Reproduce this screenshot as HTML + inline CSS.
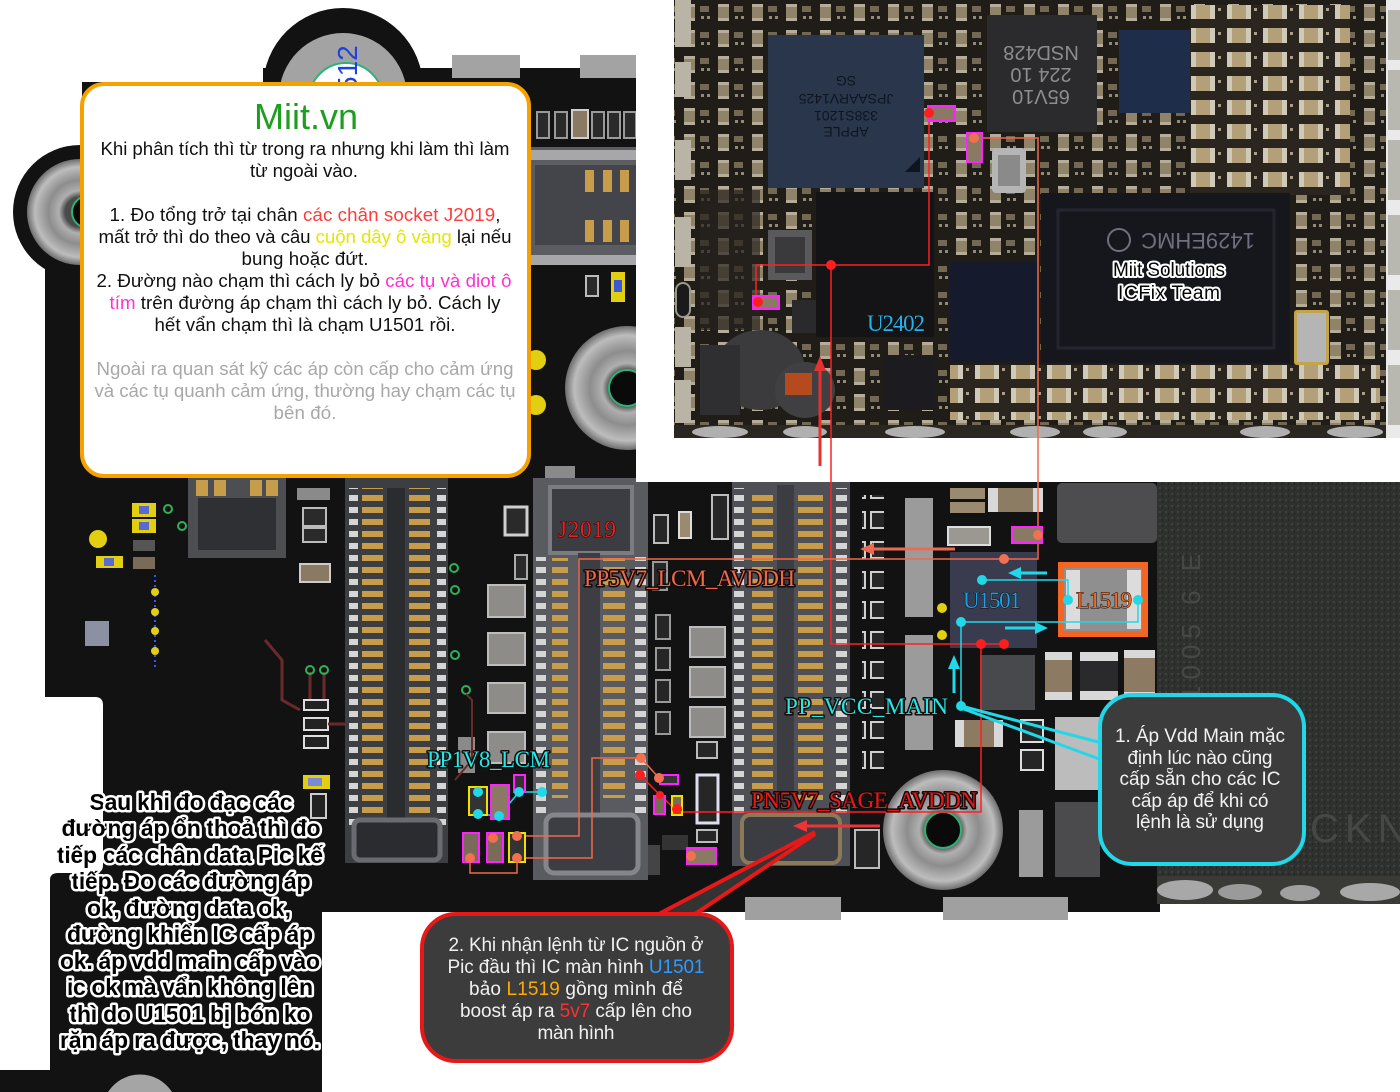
<!DOCTYPE html>
<html><head><meta charset="utf-8">
<style>
html,body{margin:0;padding:0;background:#fff;width:1400px;height:1092px;overflow:hidden;}
svg{display:block;overflow:hidden;}
</style></head><body>
<svg width="1400" height="1092" viewBox="0 0 1400 1092" xmlns="http://www.w3.org/2000/svg">
<defs>
<pattern id="gp" width="40" height="12" patternUnits="userSpaceOnUse"><rect x="0" y="3" width="40" height="6" fill="#c79d4c"/></pattern>
<pattern id="wp" width="40" height="12" patternUnits="userSpaceOnUse"><rect x="0" y="3" width="40" height="6" fill="#d5d5d5"/></pattern>
<pattern id="ph" width="34" height="26" patternUnits="userSpaceOnUse">
 <rect width="34" height="26" fill="#201c18"/>
 <rect x="4" y="4" width="11" height="17" fill="#8f836a"/>
 <rect x="4" y="4" width="11" height="3" fill="#b5ad9a"/>
 <rect x="4" y="18" width="11" height="3" fill="#b5ad9a"/>
 <rect x="20" y="6" width="9" height="6" fill="#726854"/>
 <rect x="21" y="16" width="3" height="3" fill="#928a74"/>
 <rect x="27" y="16" width="3" height="3" fill="#928a74"/>
</pattern>
<pattern id="ph2" width="36" height="24" patternUnits="userSpaceOnUse">
 <rect width="36" height="24" fill="#2a251f"/>
 <rect x="3" y="4" width="24" height="15" fill="#b3a078"/>
 <rect x="3" y="4" width="5" height="15" fill="#cfc9b8"/>
 <rect x="22" y="4" width="5" height="15" fill="#cfc9b8"/>
 <rect x="30" y="8" width="3" height="3" fill="#aaa08a"/>
</pattern>
<pattern id="sh" width="6" height="6" patternUnits="userSpaceOnUse"><rect width="6" height="6" fill="#2e312e"/><rect x="1" y="1" width="2" height="2" fill="#3d403c"/><rect x="4" y="3" width="1" height="2" fill="#222422"/></pattern>
<pattern id="mc" width="30" height="30" patternUnits="userSpaceOnUse"><rect x="1" y="2" width="24" height="16" fill="#262626" stroke="#cfcfcf" stroke-width="2"/></pattern>
<radialGradient id="met">
 <stop offset="0.28" stop-color="#4a4a4a"/>
 <stop offset="0.4" stop-color="#b0b0b0"/>
 <stop offset="0.6" stop-color="#8d8d8d"/>
 <stop offset="0.85" stop-color="#bdbdbd"/>
 <stop offset="1" stop-color="#6d6d6d"/>
</radialGradient>
</defs>

<rect width="1400" height="1092" fill="#fff"/>

<!-- main PCB -->
<path d="M45 262 L82 262 L82 82 L263 82 L263 68 L1160 68 L1160 912 L322 912 L322 1092 L0 1092 L0 1070 L50 1070 L50 880 Q50 873 58 873 L95 873 Q103 873 103 865 L103 705 Q103 697 95 697 L45 697 Z" fill="#121212"/>
<circle cx="343" cy="88" r="80" fill="#121212"/>
<circle cx="343" cy="97" r="64" fill="#a3a3a3"/>
<circle cx="346" cy="100" r="37" fill="#fff" stroke="#2bb37a" stroke-width="2"/>
<text transform="translate(357,92) rotate(-90)" font-family="Liberation Sans, Arial, sans-serif" font-size="28" fill="#2040e0">512</text>
<circle cx="80" cy="212" r="67" fill="#121212"/>
<circle cx="80" cy="212" r="53" fill="url(#met)"/>
<circle cx="88" cy="212" r="16" fill="#0a0a0a" stroke="#2bb37a" stroke-width="2"/>
<path d="M108 1092 A38 38 0 0 1 172 1092 Z" fill="#a5a5a5"/>

<!-- top tabs -->
<rect x="452" y="55" width="68" height="23" fill="#a3a3a3"/>
<rect x="580" y="55" width="56" height="23" fill="#a3a3a3"/>

<!-- top-middle area right of box -->
<g>
<rect x="537" y="112" width="12" height="26" fill="#2a2a2a" stroke="#9a9a9a" stroke-width="2"/>
<rect x="555" y="112" width="12" height="26" fill="#2a2a2a" stroke="#9a9a9a" stroke-width="2"/>
<rect x="572" y="110" width="16" height="28" fill="#8a7a64" stroke="#d0d0d0" stroke-width="2"/>
<rect x="592" y="112" width="12" height="26" fill="#2a2a2a" stroke="#9a9a9a" stroke-width="2"/>
<rect x="608" y="112" width="12" height="26" fill="#2a2a2a" stroke="#9a9a9a" stroke-width="2"/>
<rect x="624" y="112" width="12" height="26" fill="#2a2a2a" stroke="#9a9a9a" stroke-width="2"/>
<rect x="531" y="147" width="105" height="118" fill="#5b5d62"/>
<rect x="531" y="150" width="105" height="10" fill="#c8c8c8" opacity="0.7"/>
<rect x="531" y="255" width="105" height="10" fill="#c8c8c8" opacity="0.7"/>
<rect x="535" y="165" width="101" height="80" fill="#43454a"/>
<rect x="585" y="170" width="9" height="22" fill="#c79d4c"/><rect x="603" y="170" width="9" height="22" fill="#c79d4c"/><rect x="620" y="170" width="9" height="22" fill="#c79d4c"/>
<rect x="585" y="220" width="9" height="22" fill="#c79d4c"/><rect x="603" y="220" width="9" height="22" fill="#c79d4c"/><rect x="620" y="220" width="9" height="22" fill="#c79d4c"/>
<rect x="586" y="276" width="12" height="20" fill="#2a2a2a" stroke="#bbb" stroke-width="2"/>
<rect x="611" y="272" width="14" height="30" fill="#e3cf12"/><rect x="614" y="280" width="8" height="12" fill="#3b58d8"/>
<circle cx="536" cy="360" r="10" fill="#e3cf12"/>
<circle cx="536" cy="405" r="10" fill="#e3cf12"/>
<circle cx="627" cy="388" r="62" fill="url(#met)"/>
<circle cx="627" cy="388" r="18" fill="#0a0a0a" stroke="#2bb37a" stroke-width="2"/>
<rect x="545" y="466" width="30" height="14" fill="#8a8a8a"/>
</g>

<!-- left region components -->
<g>
<rect x="132" y="503" width="24" height="14" fill="#e3cf12"/><rect x="139" y="506" width="10" height="8" fill="#5a6ad0"/>
<rect x="132" y="519" width="24" height="14" fill="#e3cf12"/><rect x="139" y="522" width="10" height="8" fill="#5a6ad0"/>
<circle cx="168" cy="509" r="4" fill="none" stroke="#2bb35a" stroke-width="2"/>
<circle cx="182" cy="526" r="4" fill="none" stroke="#2bb35a" stroke-width="2"/>
<circle cx="98" cy="539" r="9" fill="#e3cf12"/>
<rect x="96" y="556" width="27" height="12" fill="#e3cf12"/><rect x="104" y="558" width="10" height="8" fill="#5a6ad0"/>
<rect x="133" y="540" width="22" height="11" fill="#555"/>
<rect x="133" y="557" width="22" height="12" fill="#7a6a58"/>
<line x1="155" y1="575" x2="155" y2="670" stroke="#3355ff" stroke-width="2" stroke-dasharray="2 3"/>
<circle cx="155" cy="592" r="4" fill="#e3cf12"/><circle cx="155" cy="612" r="4" fill="#e3cf12"/><circle cx="155" cy="631" r="4" fill="#e3cf12"/><circle cx="155" cy="651" r="4" fill="#e3cf12"/>
<rect x="85" y="621" width="24" height="25" fill="#8b90a2"/>
<rect x="188" y="478" width="98" height="80" fill="#4d4e52"/>
<rect x="198" y="498" width="78" height="52" fill="#2f3034"/>
<rect x="196" y="480" width="12" height="16" fill="#c79d4c"/><rect x="214" y="480" width="12" height="16" fill="#c79d4c"/><rect x="250" y="480" width="12" height="16" fill="#c79d4c"/><rect x="266" y="480" width="12" height="16" fill="#c79d4c"/>
<rect x="297" y="488" width="33" height="12" fill="#8a8a8a"/>
<rect x="303" y="508" width="23" height="18" fill="#2a2a2a" stroke="#bbb" stroke-width="2"/>
<rect x="303" y="528" width="23" height="14" fill="#2a2a2a" stroke="#bbb" stroke-width="2"/>
<rect x="300" y="564" width="30" height="18" fill="#8a7a64" stroke="#ccc" stroke-width="2"/>
<polyline points="265,640 282,660 282,700 300,710" fill="none" stroke="#6b2a2a" stroke-width="3"/>
<line x1="310" y1="672" x2="310" y2="700" stroke="#6b2a2a" stroke-width="3"/>
<line x1="324" y1="672" x2="324" y2="700" stroke="#6b2a2a" stroke-width="3"/>
<circle cx="310" cy="670" r="4" fill="none" stroke="#2bb35a" stroke-width="2"/>
<circle cx="324" cy="670" r="4" fill="none" stroke="#2bb35a" stroke-width="2"/>
<rect x="304" y="700" width="24" height="10" fill="#222" stroke="#ddd" stroke-width="2"/>
<rect x="304" y="718" width="24" height="12" fill="#222" stroke="#ddd" stroke-width="2"/>
<rect x="304" y="736" width="24" height="12" fill="#222" stroke="#ddd" stroke-width="2"/>
<line x1="328" y1="724" x2="345" y2="724" stroke="#6b2a2a" stroke-width="3"/>
<rect x="303" y="775" width="27" height="14" fill="#e3cf12"/><rect x="308" y="778" width="14" height="8" fill="#7a8ad8"/>
<rect x="311" y="794" width="15" height="24" fill="#222" stroke="#ccc" stroke-width="2"/>
</g>

<!-- Connector A -->
<g>
<rect x="345" y="478" width="103" height="385" fill="#3d3e42"/>
<rect x="349" y="488" width="9" height="340" fill="url(#wp)"/>
<rect x="437" y="488" width="9" height="340" fill="url(#wp)"/>
<rect x="362" y="488" width="21" height="330" fill="url(#gp)"/>
<rect x="409" y="488" width="21" height="330" fill="url(#gp)"/>
<rect x="387" y="488" width="18" height="345" fill="#2b2c30"/>
<rect x="354" y="820" width="86" height="40" rx="6" fill="#2b2c30" stroke="#6a6b70" stroke-width="5"/>
</g>

<!-- between A and J2019 -->
<g>
<rect x="505" y="507" width="22" height="28" fill="#2a2a2a" stroke="#cfcfcf" stroke-width="3"/>
<rect x="515" y="555" width="12" height="24" fill="#2a2a2a" stroke="#aaa" stroke-width="2"/>
<rect x="488" y="585" width="37" height="32" fill="#8e8c88" stroke="#bcbcbc" stroke-width="2"/>
<rect x="488" y="633" width="37" height="32" fill="#8e8c88" stroke="#bcbcbc" stroke-width="2"/>
<rect x="488" y="683" width="37" height="30" fill="#8e8c88" stroke="#bcbcbc" stroke-width="2"/>
<rect x="488" y="732" width="37" height="31" fill="#8e8c88" stroke="#bcbcbc" stroke-width="2"/>
<rect x="458" y="737" width="17" height="36" fill="#8a8a8a"/>
<circle cx="454" cy="568" r="4" fill="none" stroke="#2bb35a" stroke-width="2"/>
<circle cx="455" cy="590" r="4" fill="none" stroke="#2bb35a" stroke-width="2"/>
<circle cx="455" cy="655" r="4" fill="none" stroke="#2bb35a" stroke-width="2"/>
<circle cx="466" cy="690" r="4" fill="none" stroke="#2bb35a" stroke-width="2"/>
<polyline points="466,694 472,700 472,760 455,780" fill="none" stroke="#6b2a2a" stroke-width="2"/>
</g>

<!-- J2019 connector -->
<g>
<rect x="533" y="478" width="115" height="402" fill="#595b61"/>
<rect x="550" y="487" width="82" height="66" fill="#3b3d43" stroke="#7a7c82" stroke-width="4"/>
<rect x="536" y="557" width="10" height="256" fill="url(#wp)"/>
<rect x="635" y="557" width="11" height="256" fill="url(#wp)"/>
<rect x="552" y="558" width="16" height="240" fill="url(#gp)"/>
<rect x="603" y="558" width="22" height="240" fill="url(#gp)"/>
<rect x="578" y="553" width="22" height="315" fill="#3c3e44"/>
<rect x="546" y="815" width="92" height="58" rx="8" fill="#3c3e44" stroke="#84868c" stroke-width="5"/>
</g>

<!-- between J2019 and C -->
<g>
<rect x="654" y="515" width="14" height="28" fill="#262626" stroke="#bbb" stroke-width="2"/>
<rect x="679" y="512" width="12" height="26" fill="#9a8a70" stroke="#ddd" stroke-width="2"/>
<rect x="712" y="495" width="16" height="44" fill="#262626" stroke="#bbb" stroke-width="2"/>
<rect x="653" y="562" width="14" height="28" fill="#262626" stroke="#999" stroke-width="2"/>
<rect x="656" y="615" width="14" height="24" fill="#262626" stroke="#999" stroke-width="2"/>
<rect x="656" y="648" width="14" height="22" fill="#262626" stroke="#999" stroke-width="2"/>
<rect x="656" y="680" width="14" height="22" fill="#262626" stroke="#999" stroke-width="2"/>
<rect x="656" y="712" width="14" height="22" fill="#262626" stroke="#999" stroke-width="2"/>
<rect x="690" y="627" width="35" height="30" fill="#8e8c88" stroke="#bcbcbc" stroke-width="2"/>
<rect x="690" y="667" width="35" height="30" fill="#8e8c88" stroke="#bcbcbc" stroke-width="2"/>
<rect x="690" y="707" width="35" height="30" fill="#8e8c88" stroke="#bcbcbc" stroke-width="2"/>
<rect x="697" y="742" width="20" height="16" fill="#262626" stroke="#bbb" stroke-width="2"/>
<rect x="697" y="775" width="21" height="48" fill="#262626" stroke="#dde" stroke-width="3"/>
<rect x="697" y="830" width="20" height="12" fill="#262626" stroke="#bbb" stroke-width="2"/>
<rect x="648" y="845" width="12" height="30" fill="#444"/>
<rect x="662" y="835" width="26" height="15" fill="#333"/>
</g>

<!-- Connector C -->
<g>
<rect x="732" y="478" width="118" height="388" fill="#4e5056"/>
<rect x="734" y="488" width="10" height="325" fill="url(#wp)"/>
<rect x="836" y="488" width="11" height="325" fill="url(#wp)"/>
<rect x="752" y="490" width="21" height="310" fill="url(#gp)"/>
<rect x="798" y="490" width="25" height="310" fill="url(#gp)"/>
<rect x="777" y="485" width="17" height="330" fill="#3b3d43"/>
<rect x="742" y="815" width="98" height="48" rx="8" fill="#3b3d43" stroke="#8a7a5a" stroke-width="4"/>
</g>

<!-- right of C -->
<g>
<rect x="862" y="495" width="22" height="280" fill="url(#mc)"/>
<rect x="855" y="830" width="24" height="38" fill="#262626" stroke="#bbb" stroke-width="2"/>
<rect x="905" y="498" width="28" height="119" fill="#9b9b9b"/>
<rect x="905" y="635" width="28" height="115" fill="#9b9b9b"/>
<rect x="1019" y="810" width="24" height="67" fill="#9b9b9b"/>
<rect x="950" y="488" width="35" height="11" fill="#9a8a70"/>
<rect x="950" y="502" width="35" height="11" fill="#9a8a70"/>
<rect x="948" y="527" width="42" height="18" fill="#9a9890" stroke="#ddd" stroke-width="2"/>
<rect x="988" y="488" width="55" height="24" fill="#8d7c64"/>
<rect x="988" y="488" width="10" height="24" fill="#d8d8d8"/><rect x="1033" y="488" width="10" height="24" fill="#d8d8d8"/>
<rect x="1057" y="483" width="100" height="60" rx="5" fill="#4d4d4f"/>
<rect x="950" y="552" width="87" height="96" fill="#393b4e"/>
<rect x="1058" y="562" width="90" height="75" fill="#f26522"/>
<rect x="1064" y="568" width="78" height="63" fill="#8f8f8f"/>
<rect x="1066" y="570" width="14" height="59" fill="#dcdcdc"/>
<rect x="1127" y="570" width="14" height="59" fill="#dcdcdc"/>
<rect x="980" y="655" width="55" height="55" fill="#48494d"/>
<rect x="1045" y="652" width="27" height="48" fill="#8c7a62"/><rect x="1045" y="652" width="27" height="8" fill="#d8d8d8"/><rect x="1045" y="692" width="27" height="8" fill="#d8d8d8"/>
<rect x="1080" y="652" width="38" height="48" fill="#2a2a2c"/><rect x="1080" y="652" width="38" height="9" fill="#d8d8d8"/><rect x="1080" y="691" width="38" height="9" fill="#d8d8d8"/>
<rect x="1124" y="650" width="31" height="50" fill="#8c7a62"/><rect x="1124" y="650" width="31" height="8" fill="#d8d8d8"/><rect x="1124" y="692" width="31" height="8" fill="#d8d8d8"/>
<rect x="955" y="720" width="48" height="27" fill="#8c7a62"/><rect x="955" y="720" width="9" height="27" fill="#d8d8d8"/><rect x="994" y="720" width="9" height="27" fill="#d8d8d8"/>
<rect x="1021" y="720" width="22" height="22" fill="#262626" stroke="#ddd" stroke-width="2"/>
<rect x="1021" y="750" width="22" height="20" fill="#262626" stroke="#ddd" stroke-width="2"/>
<rect x="1055" y="717" width="45" height="73" fill="#bcbcbc"/>
<rect x="1055" y="802" width="45" height="75" fill="#4b4b4d"/>
<circle cx="942" cy="608" r="5" fill="#e3cf12"/><circle cx="942" cy="635" r="5" fill="#e3cf12"/>
<circle cx="943" cy="830" r="60" fill="url(#met)"/>
<circle cx="943" cy="830" r="18" fill="#0a0a0a" stroke="#2bb37a" stroke-width="2"/>
</g>

<!-- bottom tabs -->
<rect x="745" y="897" width="96" height="23" fill="#a0a0a0"/>
<rect x="943" y="897" width="125" height="23" fill="#a0a0a0"/>

<!-- shield right -->
<rect x="1157" y="482" width="243" height="396" fill="url(#sh)"/>
<rect x="1157" y="876" width="243" height="28" fill="#3a3a37"/>
<ellipse cx="1185" cy="890" rx="28" ry="10" fill="#a8a8a8"/>
<ellipse cx="1240" cy="892" rx="22" ry="8" fill="#9a9a9a"/>
<ellipse cx="1300" cy="893" rx="20" ry="8" fill="#a0a0a0"/>
<ellipse cx="1370" cy="892" rx="30" ry="9" fill="#a8a8a8"/>
<text transform="translate(1200,700) rotate(-90)" font-family="Liberation Sans, Arial, sans-serif" font-size="26" fill="#454844" letter-spacing="6">1005 6 E</text>
<text x="1310" y="842" font-family="Liberation Sans, Arial, sans-serif" font-size="40" fill="#454844" letter-spacing="6">CKN</text>

<!-- inset -->
<rect x="636" y="0" width="764" height="482" fill="#fff"/>
<rect x="674" y="0" width="712" height="438" fill="url(#ph)"/>
<rect x="1190" y="5" width="160" height="190" fill="url(#ph2)"/>
<rect x="950" y="365" width="430" height="55" fill="url(#ph2)"/>
<rect x="700" y="190" width="60" height="140" fill="#26221e" opacity="0.7"/>
<rect x="1386" y="0" width="14" height="438" fill="#eaeaea"/>
<rect x="1388" y="10" width="12" height="50" fill="#b8b8b0"/><rect x="1388" y="70" width="12" height="60" fill="#b8b8b0"/><rect x="1388" y="140" width="12" height="60" fill="#b8b8b0"/><rect x="1388" y="215" width="12" height="60" fill="#b8b8b0"/><rect x="1388" y="290" width="12" height="60" fill="#b8b8b0"/><rect x="1388" y="365" width="12" height="60" fill="#b8b8b0"/>
<g fill="#b9b4a6">
<rect x="675" y="0" width="16" height="47"/><rect x="675" y="62" width="16" height="35"/><rect x="675" y="140" width="16" height="40"/><rect x="675" y="217" width="16" height="50"/><rect x="675" y="327" width="16" height="40"/><rect x="675" y="380" width="16" height="43"/>
</g>
<rect x="676" y="283" width="14" height="34" rx="7" fill="#1a1a1a" stroke="#9a9a8a" stroke-width="2"/>
<rect x="768" y="35" width="156" height="153" fill="#29364b"/>
<polygon points="905,172 920,172 920,157" fill="#0e1420"/>
<g transform="rotate(180 846 108)" font-family="Liberation Sans, Arial, sans-serif" font-size="14" fill="#0e1522" text-anchor="middle">
<text x="846" y="89">APPLE</text><text x="846" y="105">338S1201</text><text x="846" y="122">JPSAARV1425</text><text x="846" y="140">SG</text>
</g>
<rect x="816" y="192" width="118" height="145" fill="#141416"/>
<rect x="768" y="230" width="44" height="50" fill="#5a5a5c"/><rect x="775" y="237" width="30" height="36" fill="#3a3a3c"/>
<rect x="792" y="300" width="24" height="33" fill="#2a2a2c"/>
<rect x="987" y="15" width="110" height="117" fill="#2b2b2d"/>
<g transform="rotate(180 1041 75)" font-family="Liberation Sans, Arial, sans-serif" font-size="20" fill="#8d8d8d" text-anchor="middle">
<text x="1041" y="60">65V10</text><text x="1041" y="82">224 10</text><text x="1041" y="104">NSD428</text>
</g>
<rect x="1119" y="30" width="71" height="83" fill="#1e2d4a"/>
<rect x="992" y="148" width="34" height="45" rx="4" fill="#b5b5b5"/><rect x="998" y="155" width="22" height="31" fill="#8a8a8a"/>
<rect x="950" y="262" width="88" height="100" fill="#151a2c"/>
<rect x="1041" y="193" width="249" height="170" fill="#16171d"/>
<rect x="1058" y="210" width="216" height="138" fill="none" stroke="#24262f" stroke-width="3"/>
<circle cx="1119" cy="240" r="11" fill="none" stroke="#6e7080" stroke-width="2"/>
<g transform="rotate(180 1198 241)" font-family="Liberation Sans, Arial, sans-serif" font-size="22" fill="#6e7080" text-anchor="middle"><text x="1198" y="249">1429EHMC</text></g>
<rect x="1294" y="310" width="35" height="55" rx="3" fill="#c2a54a"/><rect x="1297" y="313" width="29" height="49" fill="#b5b5b5"/>
<rect x="885" y="355" width="50" height="55" fill="#1c1c20"/>
<ellipse cx="760" cy="370" rx="45" ry="40" fill="#3b3b3d"/>
<ellipse cx="805" cy="390" rx="30" ry="28" fill="#404042"/>
<rect x="785" y="373" width="27" height="22" fill="#b44a1e"/>
<rect x="700" y="345" width="40" height="70" fill="#2f2f31"/>
<rect x="674" y="425" width="712" height="13" fill="#2a2622"/>
<g fill="#b0b0b0">
<ellipse cx="720" cy="432" rx="28" ry="6"/><ellipse cx="805" cy="432" rx="22" ry="6"/><ellipse cx="915" cy="432" rx="30" ry="6"/><ellipse cx="1035" cy="432" rx="25" ry="6"/><ellipse cx="1105" cy="432" rx="22" ry="6"/><ellipse cx="1265" cy="432" rx="25" ry="6"/><ellipse cx="1355" cy="432" rx="28" ry="6"/>
</g>
<g font-family="Liberation Sans, Arial, sans-serif" font-size="19" fill="#000" stroke="#fff" stroke-width="4" stroke-linejoin="round" paint-order="stroke" text-anchor="middle" lengthAdjust="spacingAndGlyphs">
<text x="1169" y="276" textLength="112">Miit Solutions</text>
<text x="1169" y="299" textLength="102">ICFix Team</text>
</g>

<!-- annotation lines -->
<g fill="none" stroke-width="1.5">
<polyline points="929,113 929,265 756,265 756,302" stroke="#ff2020"/>
<polyline points="831,265 831,644 1005,644" stroke="#ff2020"/>
<polyline points="981,644 981,812 677,812" stroke="#ff2020"/>
<polyline points="640,775 660,795 677,811" stroke="#ff2020"/>
<polyline points="974,138 1038,138 1038,559 579,559 579,836 517,836" stroke="#f06a4a"/>
<polyline points="641,758 592,758 592,858 517,858" stroke="#f06a4a"/>
<line x1="641" y1="758" x2="659" y2="778" stroke="#f06a4a"/>
<polyline points="470,858 470,873 517,873 517,858" stroke="#f06a4a"/>
<polyline points="982,580 1068,580 1068,600" stroke="#22d8e8"/>
<polyline points="1138,600 1138,622 961,622 961,706" stroke="#22d8e8"/>
<polyline points="478,814 499,816 519,792 542,792" stroke="#22d8e8"/>
</g>
<!-- magenta / yellow rects -->
<g stroke-width="2">
<rect x="928" y="106" width="27" height="15" fill="#8a7a64" stroke="#ff22ff"/>
<rect x="967" y="133" width="15" height="29" fill="#8a7a64" stroke="#ff22ff"/>
<rect x="753" y="296" width="26" height="13" fill="#8a7a64" stroke="#ff22ff"/>
<rect x="1012" y="527" width="30" height="16" fill="#8a7a64" stroke="#ff22ff"/>
<rect x="491" y="785" width="18" height="34" fill="#8a7a64" stroke="#ff22ff"/>
<rect x="514" y="775" width="11" height="17" fill="#333" stroke="#ff22ff"/>
<rect x="463" y="833" width="16" height="29" fill="#7a6a58" stroke="#ff22ff"/>
<rect x="487" y="833" width="16" height="29" fill="#7a6a58" stroke="#ff22ff"/>
<rect x="654" y="796" width="11" height="18" fill="#7a6a58" stroke="#ff22ff"/>
<rect x="660" y="775" width="18" height="9" fill="#333" stroke="#ff22ff"/>
<rect x="687" y="848" width="29" height="16" fill="#8a7a64" stroke="#ff22ff"/>
<rect x="469" y="787" width="18" height="28" fill="#333" stroke="#f0e000"/>
<rect x="509" y="833" width="16" height="29" fill="#333" stroke="#f0e000"/>
<rect x="672" y="796" width="10" height="19" fill="#7a6a58" stroke="#f0e000"/>
</g>
<!-- dots -->
<g fill="#ff1e1e">
<circle cx="929" cy="113" r="5"/><circle cx="758" cy="302" r="5"/><circle cx="831" cy="265" r="5"/><circle cx="981" cy="644" r="5"/><circle cx="1004" cy="644" r="5"/><circle cx="677" cy="809" r="5"/><circle cx="640" cy="775" r="5"/><circle cx="660" cy="795" r="4"/>
</g>
<g fill="#f07050">
<circle cx="974" cy="138" r="5"/><circle cx="1004" cy="559" r="5"/><circle cx="1038" cy="535" r="5"/><circle cx="641" cy="758" r="5"/><circle cx="659" cy="778" r="5"/><circle cx="517" cy="836" r="5"/><circle cx="517" cy="858" r="5"/><circle cx="493" cy="838" r="5"/><circle cx="470" cy="858" r="5"/><circle cx="691" cy="856" r="5"/>
</g>
<g fill="#22d8e8">
<circle cx="982" cy="580" r="5"/><circle cx="1068" cy="600" r="5"/><circle cx="1138" cy="600" r="5"/><circle cx="961" cy="622" r="5"/><circle cx="961" cy="706" r="5"/><circle cx="478" cy="792" r="5"/><circle cx="478" cy="814" r="5"/><circle cx="499" cy="816" r="5"/><circle cx="519" cy="792" r="5"/><circle cx="542" cy="792" r="5"/>
</g>
<!-- arrows -->
<line x1="955" y1="549" x2="872" y2="549" stroke="#f06850" stroke-width="3"/><polygon points="860,549 874,543 874,555" fill="#f06850"/>
<line x1="880" y1="826" x2="805" y2="826" stroke="#ee3535" stroke-width="3"/><polygon points="793,826 807,820 807,832" fill="#ee3535"/>
<line x1="820" y1="466" x2="820" y2="370" stroke="#e83030" stroke-width="3"/><polygon points="820,356 814,371 826,371" fill="#e83030"/>
<line x1="1047" y1="573" x2="1020" y2="573" stroke="#22d8e8" stroke-width="3"/><polygon points="1008,573 1021,567 1021,579" fill="#22d8e8"/>
<line x1="1005" y1="628" x2="1036" y2="628" stroke="#22d8e8" stroke-width="3"/><polygon points="1048,628 1035,622 1035,634" fill="#22d8e8"/>
<line x1="954" y1="693" x2="954" y2="668" stroke="#22d8e8" stroke-width="3"/><polygon points="954,655 948,669 960,669" fill="#22d8e8"/>

<!-- labels -->
<g font-family="Liberation Serif, Times New Roman, serif" font-size="23" stroke="#140a0a" stroke-width="3" stroke-linejoin="round" paint-order="stroke" lengthAdjust="spacingAndGlyphs">
<text x="558" y="537" textLength="58" fill="#e82020" stroke-width="1">J2019</text>
<text x="584" y="586" textLength="211" fill="#f06848">PP5V7_LCM_AVDDH</text>
<text x="751" y="808" textLength="226" fill="#e81818">PN5V7_SAGE_AVDDN</text>
<text x="785" y="714" textLength="163" fill="#22e8e8">PP_VCC_MAIN</text>
<text x="427" y="767" textLength="123" fill="#22e8e8">PP1V8_LCM</text>
<text x="963" y="608" textLength="58" fill="#1aa0e6" stroke-width="1">U1501</text>
<text x="1076" y="608" textLength="56" fill="#f06a20" stroke-width="1">L1519</text>
<text x="867" y="331" textLength="58" fill="#22b4ee" stroke-width="1">U2402</text>
</g>

<!-- cyan pointer and callout -->
<line x1="961" y1="706" x2="1102" y2="743" stroke="#22d8e8" stroke-width="3"/>
<line x1="961" y1="708" x2="1102" y2="760" stroke="#22d8e8" stroke-width="3"/>
<rect x="1100" y="695" width="204" height="169" rx="32" fill="#3c3c3c" stroke="#22d8e8" stroke-width="4"/>
<g font-family="Liberation Sans, Arial, sans-serif" font-size="19" fill="#f2f2f2" text-anchor="middle" lengthAdjust="spacingAndGlyphs">
<text x="1200" y="742" textLength="170">1. Áp Vdd Main mặc</text>
<text x="1200" y="764" textLength="145">định lúc nào cũng</text>
<text x="1200" y="785" textLength="161">cấp sẵn cho các IC</text>
<text x="1200" y="807" textLength="137">cấp áp để khi có</text>
<text x="1200" y="828" textLength="128">lệnh là sử dụng</text>
</g>

<!-- red pointer and callout -->
<polygon points="815,832 655,916 692,916" fill="#333"/>
<line x1="815" y1="832" x2="655" y2="916" stroke="#e81818" stroke-width="4"/>
<line x1="815" y1="834" x2="692" y2="916" stroke="#e81818" stroke-width="4"/>
<rect x="422" y="914" width="310" height="147" rx="34" fill="#3c3c3c" stroke="#e81818" stroke-width="4"/>
<g font-family="Liberation Sans, Arial, sans-serif" font-size="19" fill="#f0f0f0" text-anchor="middle" lengthAdjust="spacingAndGlyphs">
<text x="576" y="951" textLength="255">2. Khi nhận lệnh từ IC nguồn ở</text>
<text x="576" y="973" textLength="257">Pic đầu thì IC màn hình <tspan fill="#2d9bff">U1501</tspan></text>
<text x="576" y="995" textLength="214">bảo <tspan fill="#ffaa00">L1519</tspan> gồng mình để</text>
<text x="576" y="1017" textLength="232">boost áp ra <tspan fill="#ff3030">5v7</tspan> cấp lên cho</text>
<text x="576" y="1039" textLength="77">màn hình</text>
</g>

<!-- main info box -->
<rect x="82" y="84" width="447" height="392" rx="22" fill="#fff" stroke="#f5a200" stroke-width="4"/>
<text x="306" y="129" font-family="Liberation Sans, Arial, sans-serif" font-size="36" fill="#1e9e1e" text-anchor="middle">Miit.vn</text>
<g font-family="Liberation Sans, Arial, sans-serif" font-size="18.7" fill="#111" text-anchor="middle" lengthAdjust="spacingAndGlyphs">
<text x="305" y="155" textLength="409">Khi phân tích thì từ trong ra nhưng khi làm thì làm</text>
<text x="304" y="177" textLength="108">từ ngoài vào.</text>
<text x="305" y="221" textLength="391">1. Đo tổng trở tại chân <tspan fill="#ff3b3b">các chân socket J2019</tspan>,</text>
<text x="305" y="243" textLength="413">mất trở thì do theo và câu <tspan fill="#e6e600">cuộn dây ô vàng</tspan> lại nếu</text>
<text x="305" y="265" textLength="127">bung hoặc đứt.</text>
<text x="304" y="287" textLength="415">2. Đường nào chạm thì cách ly bỏ <tspan fill="#ff2fd0">các tụ và diot ô</tspan></text>
<text x="305" y="309" textLength="391"><tspan fill="#ff2fd0">tím</tspan> trên đường áp chạm thì cách ly bỏ. Cách ly</text>
<text x="305" y="331" textLength="301">hết vẩn chạm thì là chạm U1501 rồi.</text>
<text x="305" y="375" textLength="417" fill="#a8a8a8">Ngoài ra quan sát kỹ các áp còn cấp cho cảm ứng</text>
<text x="305" y="397" textLength="421" fill="#a8a8a8">và các tụ quanh cảm ứng, thường hay chạm các tụ</text>
<text x="305" y="419" textLength="63" fill="#a8a8a8">bên đó.</text>
</g>

<!-- left outlined text -->
<g font-family="Liberation Sans, Arial, sans-serif" font-size="23" font-weight="bold" fill="#000" stroke="#fff" stroke-width="5" stroke-linejoin="round" paint-order="stroke" text-anchor="middle" lengthAdjust="spacingAndGlyphs">
<text x="191" y="810" textLength="203">Sau khi đo đạc các</text>
<text x="191" y="836" textLength="259">đường áp ổn thoả thì đo</text>
<text x="190" y="863" textLength="266">tiếp các chân data Pic kế</text>
<text x="191" y="889" textLength="239">tiếp. Đo các đường áp</text>
<text x="189" y="916" textLength="204">ok, đường data ok,</text>
<text x="190" y="942" textLength="246">đường khiển IC cấp áp</text>
<text x="190" y="969" textLength="260">ok. áp vdd main cấp vào</text>
<text x="190" y="995" textLength="246">ic ok mà vẩn không lên</text>
<text x="190" y="1022" textLength="241">thì do U1501 bị bón ko</text>
<text x="190" y="1048" textLength="260">rặn áp ra được, thay nó.</text>
</g>
</svg>
</body></html>
